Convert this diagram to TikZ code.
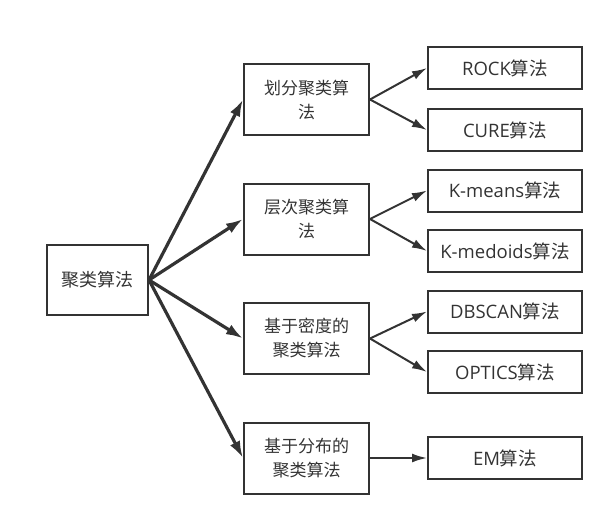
\documentclass[tikz,border=0pt]{standalone}
\usepackage{fontspec}
\setmainfont{Open Sans}
\newfontfamily\cjk{Noto Sans CJK SC}
\usetikzlibrary{arrows.meta}
\definecolor{ink}{HTML}{333333}
\newcommand{\algname}[1]{#1{\cjk 算法}}

\begin{document}
\begin{tikzpicture}[x=1pt, y=-1pt, node distance=60.5pt,
    box/.style={rectangle, draw=ink, line width=2pt, inner sep=0pt, align=center, text=ink},
    rootbox/.style={box, minimum width=101pt, minimum height=70pt, font=\cjk\fontsize{18}{24}\selectfont},
    midbox/.style={box, minimum width=125pt, minimum height=71pt, font=\cjk\fontsize{17}{24}\selectfont},
    leafbox/.style={box, minimum width=154pt, minimum height=42pt, font=\fontsize{18.5}{22}\selectfont},
    bigarrow/.style={draw=ink, line width=3.2pt, -{Latex[length=17pt, width=11pt]}},
    smallarrow/.style={draw=ink, line width=2pt, -{Latex[length=15pt, width=9pt]}}]

    \useasboundingbox (0,0) rectangle (614,527);

    \node[rootbox] (root) at (97.5,280) {聚类算法};

    \node[midbox] (part) at (306.5,99.5) {划分聚类算\\法};
    \node[midbox, below of=part, node distance=119.5pt] (hier) {层次聚类算\\法};
    \node[midbox, below of=hier, node distance=119.5pt] (dens) {基于密度的\\聚类算法};
    \node[midbox, below of=dens, node distance=119.5pt] (dist) {基于分布的\\聚类算法};

    \node[leafbox] (rock) at (505,68) {\algname{ROCK}};
    \node[leafbox, below of=rock, node distance=62pt] (cure) {\algname{CURE}};
    \node[leafbox, below of=cure] (kmeans) {\algname{K-means}};
    \node[leafbox, below of=kmeans] (kmedoids) {\algname{K-medoids}};
    \node[leafbox, below of=kmedoids] (dbscan) {\algname{DBSCAN}};
    \node[leafbox, below of=dbscan] (optics) {\algname{OPTICS}};
    \node[leafbox, right of=dist, node distance=198.5pt] (em) {\algname{EM}};

    \draw[bigarrow] (root.east) -- (part.west);
    \draw[bigarrow] (root.east) -- (hier.west);
    \draw[bigarrow] (root.east) -- (dens.west);
    \draw[bigarrow] (root.east) -- (dist.west);

    \draw[smallarrow] (part.east) -- (rock.west);
    \draw[smallarrow] (part.east) -- (cure.west);
    \draw[smallarrow] (hier.east) -- (kmeans.west);
    \draw[smallarrow] (hier.east) -- (kmedoids.west);
    \draw[smallarrow] (dens.east) -- (dbscan.west);
    \draw[smallarrow] (dens.east) -- (optics.west);
    \draw[smallarrow] (dist.east) -- (em.west);
\end{tikzpicture}
\end{document}
